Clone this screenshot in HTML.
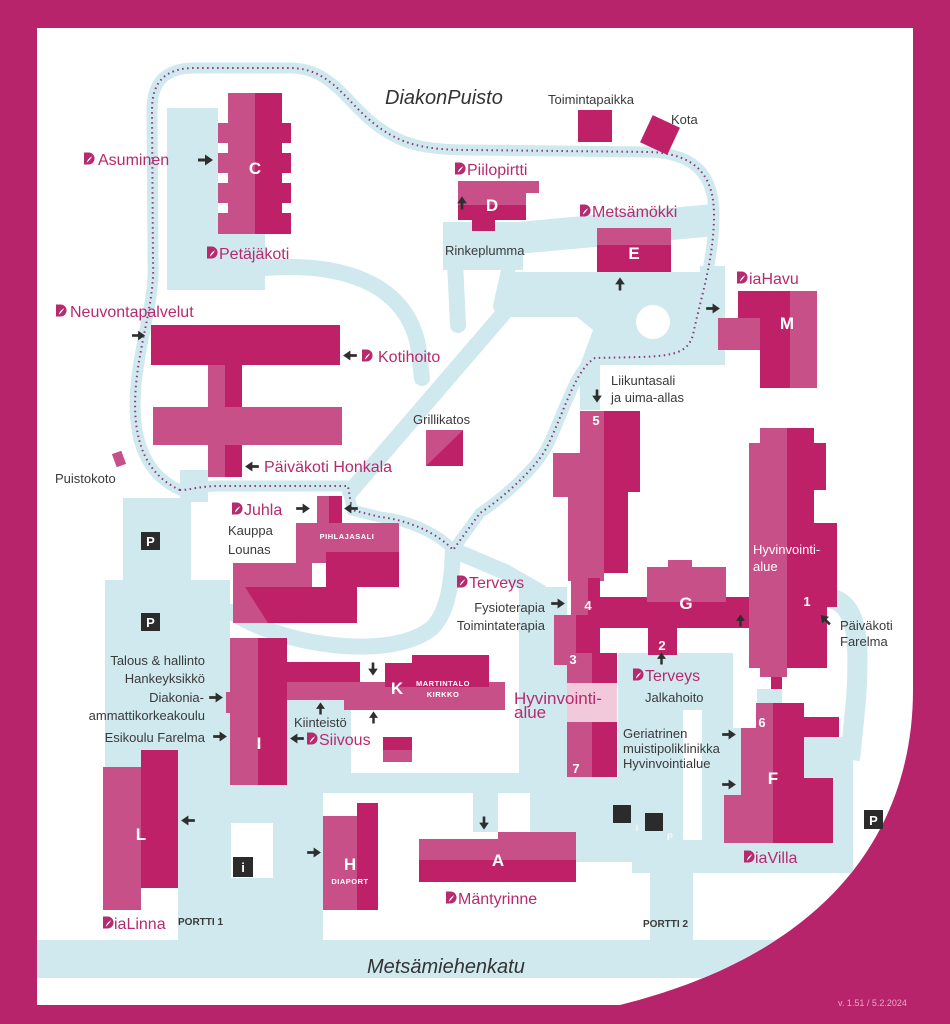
<!DOCTYPE html>
<html><head><meta charset="utf-8"><style>
html,body{margin:0;padding:0;background:#b8246b;}
svg{display:block}
text{font-family:"Liberation Sans",sans-serif;}
.m{fill:#b62a6f;font-size:16px}
.k{fill:#3a3a3a;font-size:13px}
.w{fill:#fff;font-weight:bold;text-anchor:middle}
.pb{fill:#2b2b2b}
</style></head><body>
<svg width="950" height="1024" viewBox="0 0 950 1024" xmlns="http://www.w3.org/2000/svg">
<defs>
<clipPath id="cp"><path d="M37,28 H913 V690 C913,820 840,950 620,1005 H37 Z"/></clipPath>
<symbol id="ar" viewBox="0 0 16 12"><path d="M0,6H9" stroke="#2e2e2e" stroke-width="3"/><path d="M7,0.5L15,6L7,11.5Z" fill="#2e2e2e"/></symbol>
<symbol id="lg" viewBox="0 0 12 13"><path d="M0,0H5A6.5,6.5 0 0 1 5,13H0Z" fill="#b62a6f"/><path d="M3,11C4,7 7,5 9,4C7,7 6,9 3,11Z" fill="#fff"/></symbol>
</defs>
<rect width="950" height="1024" fill="#b8246b"/>
<path d="M37,28 H913 V690 C913,820 840,950 620,1005 H37 Z" fill="#fff"/>
<g clip-path="url(#cp)" fill="#cfe9ef">
<!-- road -->
<rect x="37" y="940" width="900" height="38"/>
<!-- upper left -->
<rect x="167" y="108" width="51" height="182"/>
<rect x="167" y="230" width="98" height="60"/>
<!-- lower left -->
<rect x="123" y="498" width="68" height="85"/>
<rect x="180" y="470" width="28" height="32"/>
<rect x="105" y="580" width="125" height="210"/>
<rect x="178" y="785" width="145" height="155"/>
<rect x="287" y="700" width="64" height="80"/>
<rect x="230" y="773" width="367" height="20"/>
<rect x="473" y="790" width="25" height="42"/>
<rect x="530" y="790" width="67" height="42"/>
<!-- center-right -->
<rect x="519" y="587" width="48" height="190"/>
<rect x="557" y="777" width="95" height="85"/>
<rect x="618" y="653" width="40" height="130"/>
<rect x="632" y="653" width="101" height="220"/>
<rect x="733" y="728" width="24" height="145"/>
<rect x="757" y="689" width="25" height="15"/>
<rect x="804" y="737" width="49" height="136"/>
<rect x="650" y="843" width="203" height="30"/>
<rect x="650" y="870" width="43" height="72"/>
<path d="M828,598 C858,602 860,640 856,700 L850,760" fill="none" stroke="#cfe9ef" stroke-width="20"/>
<!-- upper center -->
<rect x="443" y="222" width="80" height="48"/>
<polygon points="518,222 713,204 716,236 518,254"/>
<polygon points="507,272 725,272 725,365 600,365 600,410 580,410 580,365 593,330 577,317 507,317"/>
<rect x="700" y="266" width="25" height="90"/>
</g>
<circle cx="653" cy="322" r="17" fill="#fff"/>
<rect x="683" y="710" width="19" height="130" fill="#fff"/>
<rect x="231" y="823" width="42" height="55" fill="#fff"/>
<g fill="none" stroke="#cfe9ef" stroke-linecap="round" stroke-linejoin="round">
<path d="M265,268 C340,262 405,282 418,345 L422,378" stroke-width="16"/>
<path d="M455,262 L458,325" stroke-width="16"/>
<path d="M510,262 L500,306" stroke-width="14"/>
<path d="M515,300 L350,492" stroke-width="16"/>
<path d="M232,612 C280,645 390,662 432,628 C450,610 452,575 453,550 L505,572 L540,592" stroke-width="16"/>
<path id="loop" d="M180,490 C140,472 132,430 136,385 C140,340 155,300 153,262 L152,110 C152,82 165,68 195,68 L290,68 C330,68 345,100 372,122 C400,145 425,150 470,150 L650,152 C700,154 714,180 714,215 C714,260 700,300 693,335 C688,352 675,356 640,357 L595,358 C575,370 565,410 547,447 C535,470 500,500 480,513 L453,550 C440,535 410,520 380,517 L352,510 L348,486 L220,486 C200,486 190,490 180,490 Z" stroke-width="11"/>
</g>
<path d="M180,490 C140,472 132,430 136,385 C140,340 155,300 153,262 L152,110 C152,82 165,68 195,68 L290,68 C330,68 345,100 372,122 C400,145 425,150 470,150 L650,152 C700,154 714,180 714,215 C714,260 700,300 693,335 C688,352 675,356 640,357 L595,358 C575,370 565,410 547,447 C535,470 500,500 480,513 L453,550 C440,535 410,520 380,517 L352,510 L348,486 L220,486 C200,486 190,490 180,490 Z" fill="none" stroke="#8a3a78" stroke-width="2" stroke-dasharray="1.5,3.5"/>

<!-- BUILDINGS -->
<g>
<!-- C -->
<rect x="228" y="93" width="27" height="141" fill="#c75088"/>
<rect x="255" y="93" width="27" height="141" fill="#bf2168"/>
<g fill="#c75088"><rect x="218" y="123" width="10" height="20"/><rect x="218" y="153" width="10" height="20"/><rect x="218" y="183" width="10" height="20"/><rect x="218" y="213" width="10" height="21"/></g>
<g fill="#bf2168"><rect x="282" y="123" width="9" height="20"/><rect x="282" y="153" width="9" height="20"/><rect x="282" y="183" width="9" height="20"/><rect x="282" y="213" width="9" height="21"/></g>
<!-- Neuvonta -->
<rect x="151" y="325" width="189" height="40" fill="#bf2168"/>
<rect x="208" y="365" width="17" height="112" fill="#c75088"/>
<rect x="225" y="365" width="17" height="112" fill="#bf2168"/>
<rect x="153" y="407" width="189" height="38" fill="#c75088"/>
<!-- Grillikatos -->
<rect x="426" y="430" width="37" height="36" fill="#bf2168"/>
<polygon points="426,430 463,430 426,466" fill="#c75088"/>
<!-- Puistokoto -->
<rect x="114" y="452" width="10" height="14" fill="#c75088" transform="rotate(-20 119 459)"/>
<!-- D -->
<rect x="458" y="181" width="81" height="12" fill="#c75088"/>
<rect x="458" y="193" width="68" height="12" fill="#c75088"/>
<rect x="458" y="205" width="68" height="15" fill="#bf2168"/>
<rect x="472" y="220" width="23" height="11" fill="#bf2168"/>
<!-- Toimintapaikka, Kota -->
<rect x="578" y="110" width="34" height="32" fill="#bf2168"/>
<rect x="645" y="120" width="30" height="30" fill="#bf2168" transform="rotate(25 660 135)"/>
<!-- E -->
<rect x="597" y="228" width="74" height="17" fill="#c75088"/>
<rect x="597" y="245" width="74" height="27" fill="#bf2168"/>
<!-- M -->
<rect x="738" y="291" width="79" height="27" fill="#bf2168"/>
<rect x="718" y="318" width="72" height="32" fill="#bf2168"/>
<rect x="760" y="318" width="57" height="70" fill="#bf2168"/>
<rect x="718" y="318" width="42" height="32" fill="#c75088"/>
<rect x="790" y="291" width="27" height="97" fill="#c75088"/>
<!-- 5 -->
<rect x="580" y="411" width="24" height="170" fill="#c75088"/>
<rect x="553" y="453" width="27" height="44" fill="#c75088"/>
<rect x="568" y="497" width="12" height="84" fill="#c75088"/>
<rect x="604" y="411" width="36" height="81" fill="#bf2168"/>
<rect x="604" y="492" width="24" height="81" fill="#bf2168"/>
<!-- 4, bar, G, 2 -->
<rect x="571" y="573" width="29" height="42" fill="#c75088"/>
<rect x="588" y="578" width="12" height="75" fill="#bf2168"/>
<rect x="600" y="597" width="160" height="31" fill="#bf2168"/>
<rect x="647" y="567" width="79" height="35" fill="#c75088"/>
<rect x="668" y="560" width="24" height="8" fill="#c75088"/>
<rect x="647" y="602" width="79" height="26" fill="#bf2168"/>
<rect x="648" y="628" width="29" height="27" fill="#bf2168"/>
<!-- 3 / 7 -->
<rect x="554" y="615" width="22" height="50" fill="#c75088"/>
<rect x="576" y="615" width="24" height="38" fill="#bf2168"/>
<rect x="567" y="653" width="25" height="30" fill="#c75088"/>
<rect x="592" y="653" width="25" height="30" fill="#bf2168"/>
<rect x="567" y="683" width="50" height="39" fill="#f2c9da"/>
<rect x="567" y="722" width="25" height="55" fill="#c75088"/>
<rect x="592" y="722" width="25" height="55" fill="#bf2168"/>
<!-- 1 -->
<rect x="749" y="443" width="38" height="225" fill="#c75088"/>
<rect x="760" y="428" width="27" height="249" fill="#c75088"/>
<rect x="787" y="428" width="27" height="240" fill="#bf2168"/>
<rect x="814" y="443" width="12" height="47" fill="#bf2168"/>
<rect x="814" y="523" width="23" height="84" fill="#bf2168"/>
<rect x="814" y="607" width="13" height="61" fill="#bf2168"/>
<rect x="771" y="677" width="11" height="12" fill="#bf2168"/>
<!-- F -->
<rect x="756" y="703" width="17" height="25" fill="#c75088"/>
<rect x="741" y="728" width="32" height="67" fill="#c75088"/>
<rect x="724" y="795" width="49" height="48" fill="#c75088"/>
<rect x="773" y="703" width="31" height="140" fill="#bf2168"/>
<rect x="804" y="717" width="35" height="20" fill="#bf2168"/>
<rect x="804" y="778" width="29" height="65" fill="#bf2168"/>
<!-- J -->
<rect x="296" y="523" width="103" height="29" fill="#c75088"/>
<rect x="296" y="552" width="30" height="11" fill="#c75088"/>
<rect x="326" y="552" width="73" height="35" fill="#bf2168"/>
<rect x="317" y="496" width="25" height="27" fill="#bf2168"/>
<rect x="317" y="496" width="12" height="27" fill="#c75088"/>
<rect x="233" y="563" width="79" height="60" fill="#c75088"/>
<polygon points="245,587 312,587 312,623 268,623" fill="#bf2168"/>
<rect x="310" y="587" width="47" height="36" fill="#bf2168"/>
<!-- I -->
<rect x="230" y="638" width="28" height="147" fill="#c75088"/>
<rect x="258" y="638" width="29" height="147" fill="#bf2168"/>
<rect x="226" y="692" width="4" height="21" fill="#c75088"/>
<!-- K -->
<rect x="280" y="662" width="80" height="20" fill="#bf2168"/>
<rect x="287" y="682" width="218" height="18" fill="#c75088"/>
<rect x="344" y="700" width="161" height="10" fill="#c75088"/>
<rect x="385" y="663" width="104" height="24" fill="#bf2168"/>
<rect x="412" y="655" width="77" height="10" fill="#bf2168"/>
<rect x="383" y="737" width="29" height="13" fill="#bf2168"/>
<rect x="383" y="750" width="29" height="12" fill="#c75088"/>
<!-- L -->
<rect x="103" y="767" width="38" height="143" fill="#c75088"/>
<rect x="141" y="750" width="37" height="138" fill="#bf2168"/>
<!-- H -->
<rect x="323" y="816" width="34" height="94" fill="#c75088"/>
<rect x="357" y="803" width="21" height="107" fill="#bf2168"/>
<!-- A -->
<rect x="419" y="839" width="157" height="21" fill="#c75088"/>
<rect x="498" y="832" width="78" height="10" fill="#c75088"/>
<rect x="419" y="860" width="157" height="22" fill="#bf2168"/>
</g>

<!-- dark boxes -->
<rect class="pb" x="141" y="532" width="19" height="18"/><text x="150.5" y="546" class="w" font-size="13">P</text>
<rect class="pb" x="141" y="613" width="19" height="18"/><text x="150.5" y="627" class="w" font-size="13">P</text>
<rect class="pb" x="864" y="810" width="19" height="19"/><text x="873.5" y="825" class="w" font-size="13">P</text>
<rect class="pb" x="233" y="857" width="20" height="20"/><text x="243" y="872" class="w" font-size="13">i</text>
<rect class="pb" x="613" y="805" width="18" height="18"/>
<rect class="pb" x="645" y="813" width="18" height="18"/>
<text x="637" y="831" class="w" font-size="9" fill-opacity="0.8">i</text>
<text x="670" y="840" class="w" font-size="9" fill-opacity="0.8">P</text>

<!-- building letters -->
<g class="w" font-size="17">
<text x="255" y="174" fill="#fff">C</text>
<text x="492" y="211">D</text>
<text x="634" y="259">E</text>
<text x="787" y="329">M</text>
<text x="317" y="585">J</text>
<text x="686" y="609">G</text>
<text x="259" y="749">I</text>
<text x="397" y="694">K</text>
<text x="141" y="840">L</text>
<text x="350" y="870">H</text>
<text x="498" y="866">A</text>
<text x="773" y="784">F</text>
</g>
<g class="w" font-size="13">
<text x="596" y="425">5</text>
<text x="588" y="610">4</text>
<text x="662" y="650">2</text>
<text x="573" y="664">3</text>
<text x="576" y="773">7</text>
<text x="807" y="606">1</text>
<text x="762" y="727">6</text>
</g>
<g class="w" font-size="7.5" letter-spacing="0.5">
<text x="347" y="539">PIHLAJASALI</text>
<text x="443" y="686">MARTINTALO</text>
<text x="443" y="697">KIRKKO</text>
<text x="350" y="884">DIAPORT</text>
</g>
<text x="753" y="554" fill="#fff" font-size="13">Hyvinvointi-</text>
<text x="753" y="571" fill="#fff" font-size="13">alue</text>

<!-- labels -->
<text x="385" y="104" font-size="20" font-style="italic" fill="#333">DiakonPuisto</text>
<text x="367" y="973" font-size="20" font-style="italic" fill="#333">Metsämiehenkatu</text>
<text x="838" y="1006" font-size="9" fill="#e7a9c5">v. 1.51  /  5.2.2024</text>
<g class="k">
<text x="548" y="104">Toimintapaikka</text>
<text x="671" y="124">Kota</text>
<text x="445" y="255">Rinkeplumma</text>
<text x="413" y="424">Grillikatos</text>
<text x="611" y="385">Liikuntasali</text>
<text x="611" y="402">ja uima-allas</text>
<text x="840" y="630">Päiväkoti</text>
<text x="840" y="646">Farelma</text>
<text x="55" y="483">Puistokoto</text>
<text x="228" y="535">Kauppa</text>
<text x="228" y="554">Lounas</text>
<text x="545" y="612" text-anchor="end">Fysioterapia</text>
<text x="545" y="630" text-anchor="end">Toimintaterapia</text>
<text x="645" y="702">Jalkahoito</text>
<text x="623" y="738">Geriatrinen</text>
<text x="623" y="753">muistipoliklinikka</text>
<text x="623" y="768">Hyvinvointialue</text>
<text x="205" y="665" text-anchor="end">Talous &amp; hallinto</text>
<text x="205" y="683" text-anchor="end">Hankeyksikkö</text>
<text x="204" y="702" text-anchor="end">Diakonia-</text>
<text x="205" y="720" text-anchor="end">ammattikorkeakoulu</text>
<text x="205" y="742" text-anchor="end">Esikoulu Farelma</text>
<text x="294" y="727">Kiinteistö</text>
<text x="178" y="925" font-size="10" font-weight="bold">PORTTI 1</text>
<text x="643" y="927" font-size="10" font-weight="bold">PORTTI 2</text>
</g>
<g class="m">
<use href="#lg" x="84" y="152" width="11" height="13"/><text x="98" y="165">Asuminen</text>
<use href="#lg" x="207" y="246" width="11" height="13"/><text x="219" y="259">Petäjäkoti</text>
<use href="#lg" x="455" y="162" width="11" height="13"/><text x="467" y="175">Piilopirtti</text>
<use href="#lg" x="580" y="204" width="11" height="13"/><text x="592" y="217">Metsämökki</text>
<use href="#lg" x="737" y="271" width="11" height="13"/><text x="749" y="284">iaHavu</text>
<use href="#lg" x="56" y="304" width="11" height="13"/><text x="70" y="317">Neuvontapalvelut</text>
<use href="#lg" x="362" y="349" width="11" height="13"/><text x="378" y="362">Kotihoito</text>
<text x="264" y="472">Päiväkoti Honkala</text>
<use href="#lg" x="232" y="502" width="11" height="13"/><text x="244" y="515">Juhla</text>
<use href="#lg" x="457" y="575" width="11" height="13"/><text x="469" y="588">Terveys</text>
<use href="#lg" x="633" y="668" width="11" height="13"/><text x="645" y="681">Terveys</text>
<text x="514" y="704" font-size="17">Hyvinvointi-</text>
<text x="514" y="718" font-size="17">alue</text>
<use href="#lg" x="307" y="732" width="11" height="13"/><text x="319" y="745">Siivous</text>
<use href="#lg" x="744" y="850" width="11" height="13"/><text x="755" y="863">iaVilla</text>
<use href="#lg" x="446" y="891" width="11" height="13"/><text x="458" y="904">Mäntyrinne</text>
<use href="#lg" x="103" y="916" width="11" height="13"/><text x="114" y="929">iaLinna</text>
</g>

<!-- arrows -->
<g>
<use href="#ar" x="198" y="154" width="16" height="12"/>
<use href="#ar" x="132" y="330" width="14" height="11"/>
<use href="#ar" x="342" y="350" width="15" height="11" transform="rotate(180 349.5 355.5)"/>
<use href="#ar" x="455" y="197" width="14" height="11" transform="rotate(-90 462 202.5)"/>
<use href="#ar" x="613" y="278" width="14" height="11" transform="rotate(-90 620 283.5)"/>
<use href="#ar" x="706" y="303" width="15" height="11"/>
<use href="#ar" x="590" y="391" width="14" height="11" transform="rotate(90 597 396.5)"/>
<use href="#ar" x="244" y="461" width="15" height="11" transform="rotate(180 251.5 466.5)"/>
<use href="#ar" x="296" y="503" width="15" height="11"/>
<use href="#ar" x="343" y="503" width="15" height="11" transform="rotate(180 350.5 508.5)"/>
<use href="#ar" x="551" y="598" width="15" height="11"/>
<use href="#ar" x="734" y="615" width="13" height="10" transform="rotate(-90 740.5 620)"/>
<use href="#ar" x="655" y="653" width="13" height="10" transform="rotate(-90 661.5 658)"/>
<use href="#ar" x="818" y="614" width="14" height="11" transform="rotate(-135 825 619.5)"/>
<use href="#ar" x="722" y="729" width="15" height="11"/>
<use href="#ar" x="722" y="779" width="15" height="11"/>
<use href="#ar" x="209" y="692" width="15" height="11"/>
<use href="#ar" x="213" y="731" width="15" height="11"/>
<use href="#ar" x="366" y="664" width="14" height="11" transform="rotate(90 373 669.5)"/>
<use href="#ar" x="314" y="703" width="13" height="10" transform="rotate(-90 320.5 708)"/>
<use href="#ar" x="367" y="712" width="13" height="10" transform="rotate(-90 373.5 717)"/>
<use href="#ar" x="289" y="733" width="15" height="11" transform="rotate(180 296.5 738.5)"/>
<use href="#ar" x="180" y="815" width="15" height="11" transform="rotate(180 187.5 820.5)"/>
<use href="#ar" x="307" y="847" width="15" height="11"/>
<use href="#ar" x="477" y="818" width="14" height="11" transform="rotate(90 484 823.5)"/>
</g>
</svg>
</body></html>
